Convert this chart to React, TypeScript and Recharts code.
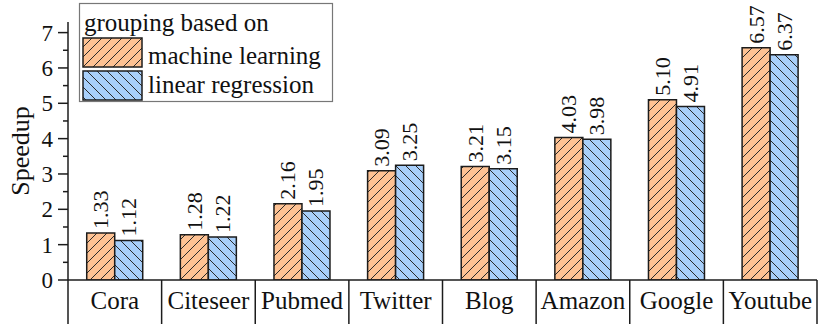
import { BarChart, Bar, XAxis, YAxis, LabelList, Label } from 'recharts'

const categories = ['Cora', 'Citeseer', 'Pubmed', 'Twitter', 'Blog', 'Amazon', 'Google', 'Youtube']
const machineLearning = [1.33, 1.28, 2.16, 3.09, 3.21, 4.03, 5.1, 6.57]
const linearRegression = [1.12, 1.22, 1.95, 3.25, 3.15, 3.98, 4.91, 6.37]
const yTicks = [0, 0.5, 1, 1.5, 2, 2.5, 3, 3.5, 4, 4.5, 5, 5.5, 6, 6.5, 7]

const data = categories.map((name, i) => ({
  name,
  ml: machineLearning[i],
  lr: linearRegression[i],
}))

const W = 822
const H = 324
const MARGIN = { top: 22, right: 5, bottom: 0, left: 0 }
const Y_WIDTH = 68
const X_HEIGHT = 44
const FONT = 'Liberation Serif, DejaVu Serif, serif'
const ORANGE = '#fec293'
const BLUE = '#a8cffa'
const INK = '#1c1c1c'
const txt = { fontFamily: FONT, fill: '#111' }

const bandHalf = (W - MARGIN.left - MARGIN.right - Y_WIDTH) / categories.length / 2

function Hatch({ id, fill, dir }: { id: string; fill: string; dir: 'up' | 'down' }) {
  const s = 10
  const d =
    dir === 'up'
      ? `M0,${s} L${s},0 M-1,1 L1,-1 M${s - 1},${s + 1} L${s + 1},${s - 1}`
      : `M0,0 L${s},${s} M-1,${s - 1} L1,${s + 1} M${s - 1},-1 L${s + 1},1`
  return (
    <pattern id={id} patternUnits="userSpaceOnUse" width={s} height={s}>
      <rect width={s} height={s} fill={fill} />
      <path d={d} stroke="#2a2a2a" strokeWidth={1} />
    </pattern>
  )
}

function YTick(props: any) {
  const { x, y, payload } = props
  const major = Number.isInteger(payload.value)
  return (
    <g>
      <line x1={x - (major ? 10 : 5)} x2={x} y1={y} y2={y} stroke={INK} strokeWidth={1.5} />
      {major && (
        <text x={x - 15} y={y} dy={8} textAnchor="end" fontSize={23} style={txt}>
          {payload.value}
        </text>
      )}
    </g>
  )
}

function XTick(props: any) {
  const { x, y, payload, index } = props
  return (
    <g>
      {index === 0 && (
        <line x1={x - bandHalf} x2={x - bandHalf} y1={y} y2={H} stroke={INK} strokeWidth={1.5} />
      )}
      <line x1={x + bandHalf} x2={x + bandHalf} y1={y} y2={H} stroke={INK} strokeWidth={1.5} />
      <text x={x} y={y + 29} textAnchor="middle" fontSize={25} style={txt}>
        {payload.value}
      </text>
    </g>
  )
}

function ValueLabel(props: any) {
  const { x, y, width, value } = props
  const cx = x + width / 2
  const ty = y - 4
  return (
    <text
      x={cx}
      y={ty}
      transform={`rotate(-90, ${cx}, ${ty})`}
      textAnchor="start"
      dominantBaseline="central"
      fontSize={22}
      style={txt}
    >
      {Number(value).toFixed(2)}
    </text>
  )
}

function LegendBox() {
  return (
    <svg
      width={256}
      height={102}
      style={{ position: 'absolute', left: 78, top: 2, overflow: 'visible' }}
    >
      <defs>
        <Hatch id="legOrange" fill={ORANGE} dir="up" />
        <Hatch id="legBlue" fill={BLUE} dir="down" />
      </defs>
      <rect x={1.5} y={1.5} width={253} height={98} fill="#fff" stroke="#777" strokeWidth={1.2} />
      <text x={6} y={29} fontSize={25} style={txt}>
        grouping based on
      </text>
      <rect x={5} y={36} width={59} height={29} fill="url(#legOrange)" stroke={INK} strokeWidth={1.5} />
      <text x={70} y={62} fontSize={25} style={txt}>
        machine learning
      </text>
      <rect x={5} y={69} width={59} height={29} fill="url(#legBlue)" stroke={INK} strokeWidth={1.5} />
      <text x={70} y={91} fontSize={25} style={txt}>
        linear regression
      </text>
    </svg>
  )
}

export default function App() {
  return (
    <div style={{ position: 'absolute', left: 0, top: 0, width: W, height: H, background: '#fff', fontFamily: FONT }}>
      <BarChart
        width={W}
        height={H}
        data={data}
        margin={MARGIN}
        barCategoryGap="20%"
        barGap={0}
      >
        <defs>
          <Hatch id="hatchOrange" fill={ORANGE} dir="up" />
          <Hatch id="hatchBlue" fill={BLUE} dir="down" />
        </defs>
        <XAxis
          dataKey="name"
          height={X_HEIGHT}
          axisLine={{ stroke: INK, strokeWidth: 1.5 }}
          tickLine={false}
          tickSize={0}
          tickMargin={0}
          interval={0}
          tick={<XTick />}
        />
        <YAxis
          width={Y_WIDTH}
          domain={[0, 7.3]}
          ticks={yTicks}
          interval={0}
          allowDataOverflow
          axisLine={{ stroke: INK, strokeWidth: 1.5 }}
          tickLine={false}
          tickSize={0}
          tickMargin={0}
          tick={<YTick />}
        >
          <Label
            content={(p: any) => {
              const vb = p.viewBox || { x: 0, y: MARGIN.top, height: H - MARGIN.top - X_HEIGHT }
              const cy = vb.y + vb.height / 2
              return (
                <text
                  x={20}
                  y={cy}
                  transform={`rotate(-90, 20, ${cy})`}
                  textAnchor="middle"
                  dominantBaseline="central"
                  fontSize={26}
                  style={txt}
                >
                  Speedup
                </text>
              )
            }}
          />
        </YAxis>
        <Bar dataKey="ml" fill="url(#hatchOrange)" stroke={INK} strokeWidth={1.5} isAnimationActive={false}>
          <LabelList dataKey="ml" content={<ValueLabel />} />
        </Bar>
        <Bar dataKey="lr" fill="url(#hatchBlue)" stroke={INK} strokeWidth={1.5} isAnimationActive={false}>
          <LabelList dataKey="lr" content={<ValueLabel />} />
        </Bar>
      </BarChart>
      <LegendBox />
    </div>
  )
}
